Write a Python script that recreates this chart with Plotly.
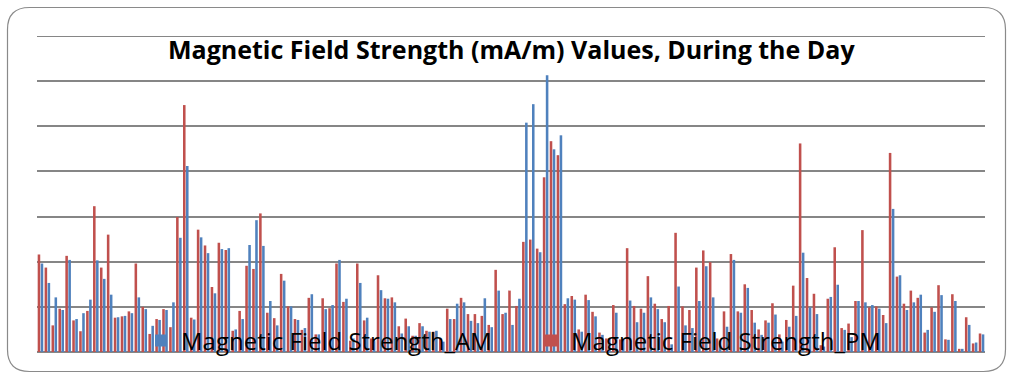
import plotly.graph_objects as go

# Measurement points along the day
points = [str(i) for i in range(1, 138)]

# Magnetic field strength in mA/m, morning readings
am_values = [
    19.6, 15.3, 12.1, 9.3, 20.4, 7.3, 8.6, 11.6, 20.3, 16.2,
    12.7, 7.7, 8.0, 8.6, 12.1, 9.5, 5.8, 7.1, 9.3, 11.0,
    25.3, 41.2, 7.2, 25.4, 21.9, 13.0, 22.8, 23.0, 5.0, 7.3,
    23.7, 29.2, 23.5, 11.3, 5.9, 15.8, 10.1, 7.1, 5.3, 12.8,
    3.9, 9.5, 10.4, 20.4, 11.8, 3.0, 15.3, 7.6, 2.4, 13.7,
    11.8, 11.0, 4.1, 5.7, 3.6, 5.7, 4.5, 4.7, 2.3, 7.3,
    10.7, 11.0, 6.9, 6.4, 11.9, 5.5, 13.6, 8.7, 6.0, 11.8,
    50.8, 54.9, 22.1, 61.3, 44.9, 48.0, 11.9, 11.6, 4.5, 11.5,
    7.9, 3.8, 3.0, 8.7, 2.8, 11.4, 6.6, 8.7, 12.1, 9.5,
    6.6, 1.7, 14.5, 5.9, 5.3, 11.3, 19.0, 12.1, 2.5, 5.6,
    20.4, 8.7, 14.2, 6.5, 3.8, 6.5, 8.3, 2.3, 5.6, 8.0,
    22.0, 9.9, 8.4, 1.2, 12.2, 14.9, 4.9, 3.3, 11.3, 11.0,
    10.4, 9.6, 6.4, 31.7, 17.0, 9.3, 11.0, 12.7, 4.9, 8.9,
    12.6, 2.7, 11.3, 0.7, 6.0, 2.1, 3.9,
]

# Magnetic field strength in mA/m, afternoon readings
pm_values = [
    21.6, 18.7, 5.9, 9.6, 21.3, 7.0, 4.6, 9.1, 32.3, 18.7,
    26.0, 7.6, 7.9, 9.0, 19.6, 10.0, 4.0, 7.3, 9.5, 5.5,
    29.9, 54.7, 7.6, 27.1, 23.6, 14.4, 24.2, 22.6, 4.7, 9.1,
    19.1, 18.4, 30.7, 8.7, 7.5, 17.3, 10.1, 7.3, 4.9, 12.0,
    3.9, 11.9, 9.7, 19.6, 11.1, 2.5, 19.6, 7.0, 3.0, 17.0,
    11.9, 12.1, 5.7, 7.4, 3.6, 6.4, 4.7, 4.5, 2.9, 9.6,
    7.3, 12.0, 8.4, 8.4, 8.0, 6.0, 18.2, 8.4, 13.6, 10.2,
    24.4, 24.9, 22.9, 38.7, 46.7, 43.6, 10.6, 12.4, 5.0, 12.7,
    8.9, 4.3, 3.0, 10.4, 2.8, 23.0, 10.2, 9.6, 16.8, 10.7,
    7.3, 10.2, 26.4, 10.1, 9.3, 18.7, 22.5, 19.9, 3.0, 9.0,
    21.7, 9.0, 15.0, 9.3, 5.0, 7.0, 10.8, 3.9, 7.1, 14.7,
    46.2, 16.4, 12.9, 1.5, 11.8, 23.2, 5.3, 6.3, 11.3, 27.0,
    9.9, 10.1, 8.2, 44.1, 16.7, 10.7, 13.6, 12.0, 4.3, 9.9,
    14.8, 2.8, 12.8, 0.7, 7.7, 1.9, 4.1,
]

title_text = "Magnetic Field Strength (mA/m) Values, During the Day"
am_name = "Magnetic Field Strength_AM"
pm_name = "Magnetic Field Strength_PM"

BLUE = "#4F81BD"
RED = "#C0504D"
GRID = "#868686"
Y_MAX = 70

W, H = 1013, 379
ML, MR, MT, MB = 37, 28, 36, 27
PW, PH = W - ML - MR, H - MT - MB

fig = go.Figure()
fig.add_bar(x=points, y=pm_values, name=pm_name, marker=dict(color=RED, line=dict(width=0)))
fig.add_bar(x=points, y=am_values, name=am_name, marker=dict(color=BLUE, line=dict(width=0)))


def px_to_paper(px, py):
    return (px - ML) / PW, (H - MB - py) / PH


# rounded frame around the whole chart
x0, y0, x1, y1, r = 7.5, 7.5, 1005.5, 371.5, 22
pts = [
    ("M", [(x0 + r, y0)]),
    ("L", [(x1 - r, y0)]),
    ("Q", [(x1, y0), (x1, y0 + r)]),
    ("L", [(x1, y1 - r)]),
    ("Q", [(x1, y1), (x1 - r, y1)]),
    ("L", [(x0 + r, y1)]),
    ("Q", [(x0, y1), (x0, y1 - r)]),
    ("L", [(x0, y0 + r)]),
    ("Q", [(x0, y0), (x0 + r, y0)]),
]
path = ""
for cmd, coords in pts:
    path += cmd + " " + " ".join("%.5f,%.5f" % px_to_paper(a, b) for a, b in coords) + " "
path += "Z"

fig.add_shape(type="path", path=path, xref="paper", yref="paper",
              line=dict(color="#8A8A8A", width=1.2), layer="below")

# top gridline at the upper end of the value range
fig.add_shape(type="line", xref="paper", yref="y", x0=0, x1=1, y0=Y_MAX, y1=Y_MAX,
              line=dict(color=GRID, width=1.8), layer="below")

fig.add_annotation(text="<b>" + title_text + "</b>", x=0.5, y=px_to_paper(0, 49)[1],
                   xref="paper", yref="paper", xanchor="center", yanchor="middle",
                   showarrow=False, font=dict(family="Open Sans", size=25, color="black"))

fig.update_layout(
    width=W, height=H,
    margin=dict(l=ML, r=MR, t=MT, b=MB, pad=0),
    paper_bgcolor="white", plot_bgcolor="white",
    barmode="group", bargap=0.13, bargroupgap=0.15,
    showlegend=True,
    legend=dict(orientation="h", traceorder="reversed",
                x=px_to_paper(141, 0)[0], xanchor="left",
                y=px_to_paper(0, 341)[1], yanchor="middle",
                bgcolor="rgba(0,0,0,0)", borderwidth=0,
                font=dict(family="Open Sans", size=24, color="black"),
                entrywidth=345, entrywidthmode="pixels"),
    xaxis=dict(showticklabels=False, ticks="", showgrid=False, showline=False,
               zeroline=False, fixedrange=True),
    yaxis=dict(range=[0, Y_MAX], dtick=10, showticklabels=False, ticks="",
               showgrid=True, gridcolor=GRID, gridwidth=1.8,
               showline=False, zeroline=True, zerolinecolor=GRID, zerolinewidth=1.8,
               fixedrange=True),
)

fig.write_html("out.html", config={"displayModeBar": False})
